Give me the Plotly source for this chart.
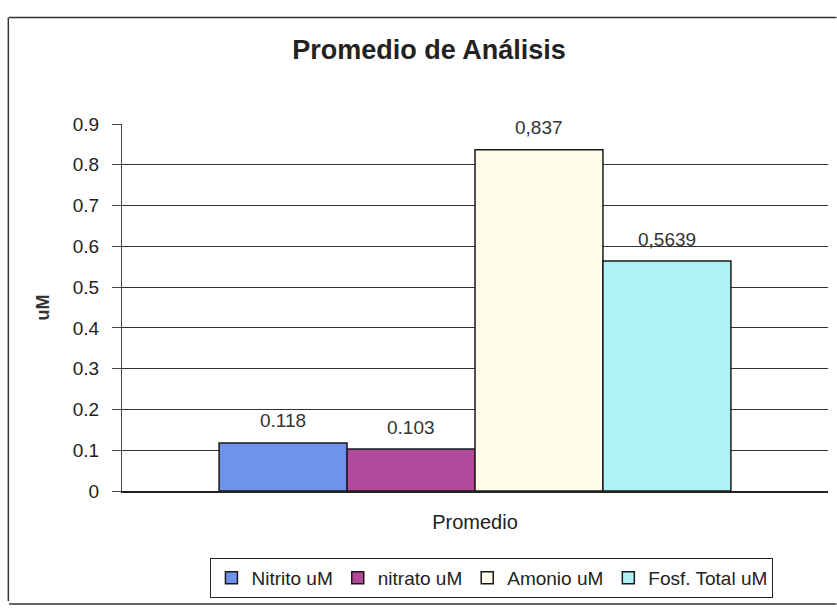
import plotly.graph_objects as go

# Average analysis values (uM)
category = ["Promedio"]
series_names = ["Nitrito uM", "nitrato uM", "Amonio uM", "Fosf. Total uM"]
series_values = [0.118, 0.103, 0.837, 0.5639]
series_labels = ["0.118", "0.103", "0,837", "0,5639"]
series_colors = ["#6f93ea", "#b24a9c", "#fffdea", "#b0f1f6"]

y_ticks = [0, 0.1, 0.2, 0.3, 0.4, 0.5, 0.6, 0.7, 0.8, 0.9]
y_tick_text = ["0", "0.1", "0.2", "0.3", "0.4", "0.5", "0.6", "0.7", "0.8", "0.9"]

FONT = "Arial, Liberation Sans, sans-serif"
W, H = 837, 610
M_L, M_R, M_T, M_B = 122, 9, 124, 119
BARGAP = 0.275

fig = go.Figure()
for name, val, col in zip(series_names, series_values, series_colors):
    fig.add_trace(go.Bar(
        name=name,
        x=category,
        y=[val],
        marker=dict(color=col, line=dict(color="#1a1a1a", width=1.5)),
    ))

# Value labels above each bar, offset horizontally to the bar's slot in the group
plot_w = W - M_L - M_R
bar_w = plot_w * (1 - BARGAP) / len(series_values)
n = len(series_values)
for i, (val, lab) in enumerate(zip(series_values, series_labels)):
    fig.add_annotation(
        x=category[0], y=val, text=lab, showarrow=False,
        xshift=(i - (n - 1) / 2) * bar_w,
        yshift=22, yanchor="middle",
        font=dict(family=FONT, size=19, color="#333333"),
    )

fig.update_layout(
    width=W,
    height=H,
    paper_bgcolor="white",
    plot_bgcolor="white",
    barmode="group",
    bargap=BARGAP,
    bargroupgap=0,
    margin=dict(l=M_L, r=M_R, t=M_T, b=M_B),
    title=dict(
        text="<b>Promedio de Análisis</b>",
        xref="paper", x=0.435, xanchor="center",
        y=0.918, yanchor="middle",
        font=dict(family=FONT, size=27, color="#222222"),
    ),
    font=dict(family=FONT, size=19, color="#222222"),
    xaxis=dict(
        showgrid=False,
        showline=True,
        linecolor="#222222",
        linewidth=1.5,
        ticks="",
        tickfont=dict(size=20, color="#222222"),
        ticklabelstandoff=12,
    ),
    yaxis=dict(
        range=[0, 0.9],
        tickvals=y_ticks,
        ticktext=y_tick_text,
        showgrid=True,
        gridcolor="#333333",
        gridwidth=1.3,
        showline=True,
        linecolor="#444444",
        linewidth=1,
        ticks="outside",
        ticklen=9,
        tickcolor="#444444",
        ticklabelstandoff=9,
        tickfont=dict(size=19, color="#222222"),
        zeroline=False,
        title=dict(text="<b>uM</b>", font=dict(size=18, color="#333333"), standoff=18),
    ),
    showlegend=True,
    legend=dict(
        orientation="h",
        x=0.524, xanchor="center",
        y=-0.237, yanchor="middle",
        bordercolor="#222222",
        borderwidth=1,
        bgcolor="white",
        font=dict(family=FONT, size=19, color="#222222"),
        itemwidth=30,
        tracegroupgap=0,
    ),
)

# Chart frame lines around the whole figure
fig.add_shape(type="line", xref="paper", yref="paper",
              x0=-0.16, x1=1.012, y0=1.29, y1=1.29,
              line=dict(color="#333333", width=1.5))
fig.add_shape(type="line", xref="paper", yref="paper",
              x0=-0.161, x1=-0.161, y0=1.29, y1=-0.3,
              line=dict(color="#333333", width=1.5))
fig.add_shape(type="line", xref="paper", yref="paper",
              x0=-0.16, x1=1.012, y0=-0.308, y1=-0.308,
              line=dict(color="#333333", width=1.5))

fig.write_html("out.html")
